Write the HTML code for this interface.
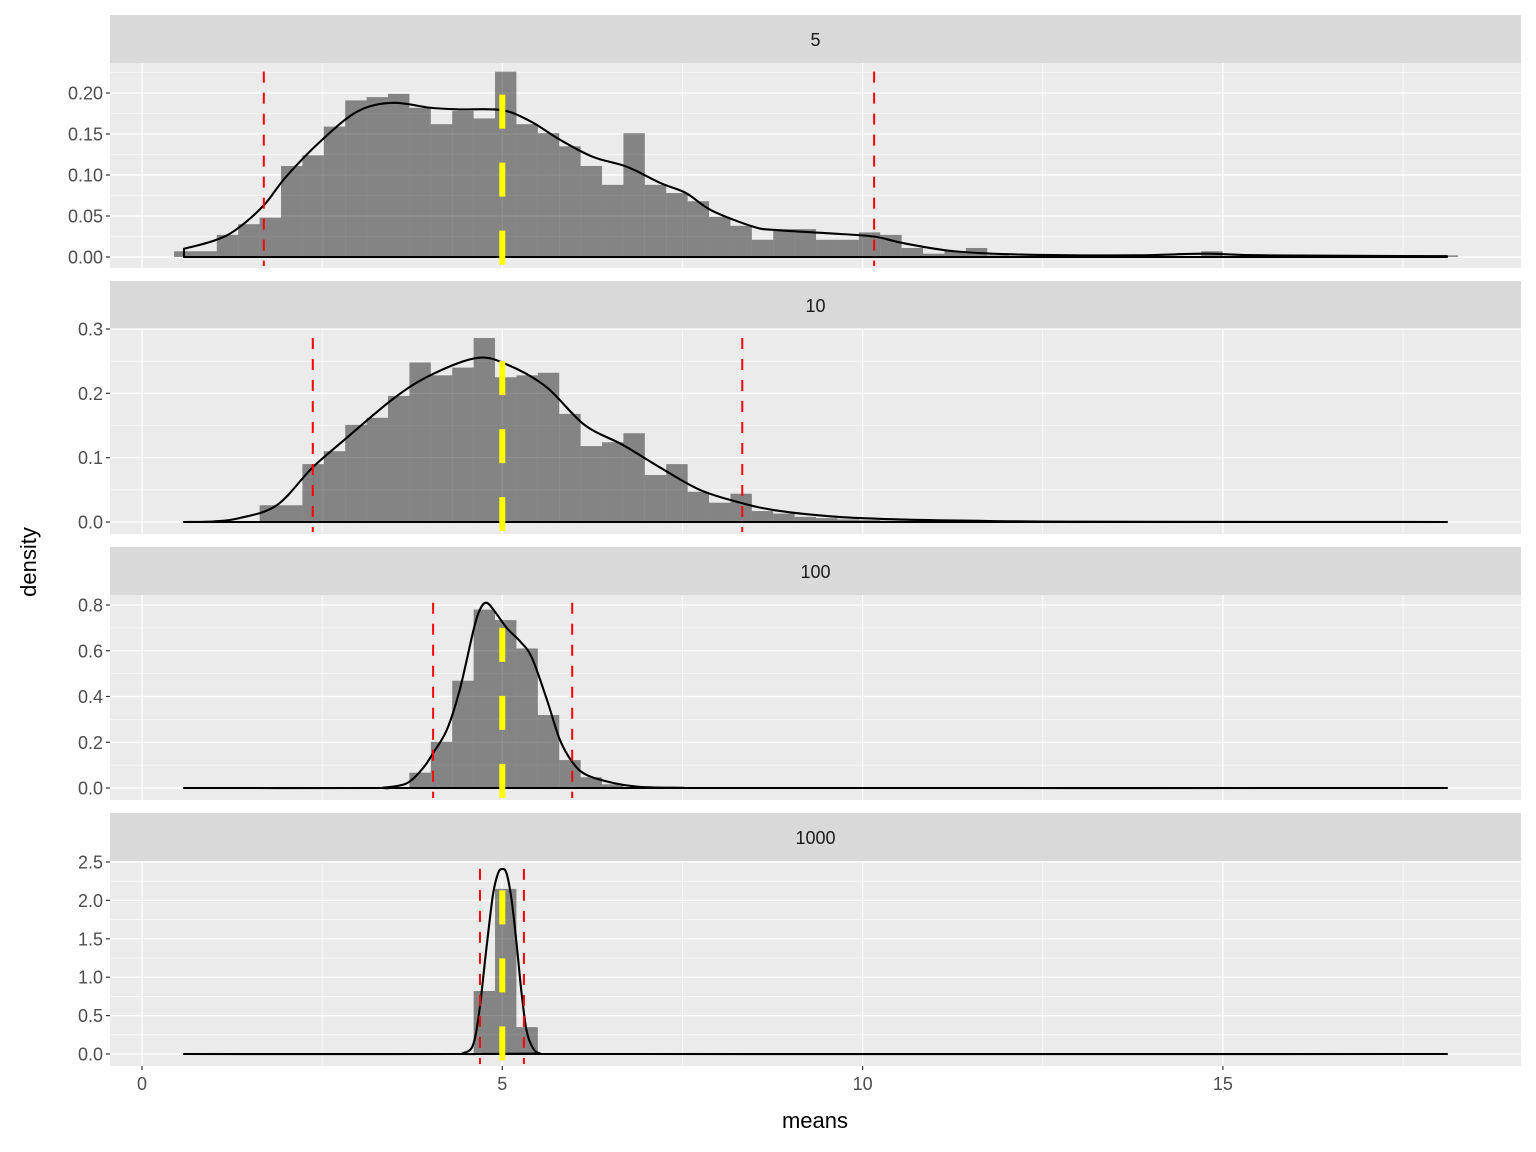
<!DOCTYPE html>
<html><head><meta charset="utf-8">
<style>
html,body{margin:0;padding:0;background:#fff;}
svg{display:block;font-family:"Liberation Sans",Arial,sans-serif;}
</style></head>
<body>
<svg id="chart" width="1536" height="1152" viewBox="0 0 1536 1152" xmlns="http://www.w3.org/2000/svg">
<rect x="0" y="0" width="1536" height="1152" fill="#ffffff"/>
<g id="panels"></g>
<text x="815" y="1128" font-size="22" fill="#000" text-anchor="middle">means</text>
<text x="0" y="0" transform="translate(36,562) rotate(-90)" font-size="22" fill="#000" text-anchor="middle">density</text>
</svg>
<script>
// ---- data ----
const panelLabels = ["5", "10", "100", "1000"];
const binStart = 0.444;
const binWidth = 0.297;
const barsFirstBin = [0, 4, 10, 13];
const bars5 = [0.007,0.007,0.027,0.040,0.048,0.111,0.124,0.159,0.191,0.195,0.199,0.182,0.162,0.178,0.169,0.226,0.162,0.151,0.135,0.111,0.088,0.151,0.088,0.078,0.068,0.049,0.038,0.021,0.034,0.034,0.021,0.021,0.030,0.027,0.011,0.004,0.007,0.011,0.002,0,0.001,0.001,0,0.001,0.001,0.001,0,0.001,0.007,0.001,0,0,0,0,0,0,0,0,0,0.002];
const bars10 = [0.026,0.026,0.090,0.110,0.151,0.162,0.196,0.248,0.228,0.240,0.286,0.225,0.228,0.232,0.168,0.118,0.124,0.138,0.073,0.090,0.047,0.030,0.044,0.017,0.013,0.008,0.006,0.004,0.003,0.002,0.002,0.001];
const bars100 = [0.004,0.067,0.202,0.469,0.78,0.734,0.61,0.319,0.122,0.047,0.016,0.004];
const bars1000 = [0.005,0.82,2.15,0.35,0.01];
const dens5x = [0.583,1.0,1.3,1.69,2.0,2.5,3.0,3.48,4.0,4.4,5.0,5.4,5.8,6.26,6.73,7.2,7.55,7.9,8.48,8.78,9.5,10.15,10.56,11.27,12.2,13.76,14.75,15.6,18.11];
const dens5y = [0.010,0.020,0.033,0.063,0.098,0.143,0.178,0.188,0.182,0.180,0.179,0.165,0.143,0.122,0.110,0.090,0.078,0.057,0.037,0.033,0.029,0.025,0.017,0.007,0.003,0.002,0.004,0.002,0.001];
const dens10x = [0.583,1.0,1.35,1.87,2.36,2.78,3.48,4.0,4.65,5.08,5.61,6.14,6.67,7.2,7.74,8.27,8.8,9.65,10.5,11.5,13,18.11];
const dens10y = [0,0.001,0.006,0.026,0.084,0.125,0.191,0.228,0.255,0.244,0.21,0.151,0.120,0.084,0.050,0.031,0.018,0.008,0.004,0.002,0.0005,0];
const dens100x = [0.583,3.2,3.34,3.67,3.9,4.04,4.23,4.41,4.6,4.69,4.78,4.9,5.06,5.25,5.41,5.62,5.8,5.98,6.17,6.54,6.91,7.5,8,18.11];
const dens100y = [0,0,0.001,0.02,0.087,0.153,0.254,0.43,0.69,0.78,0.81,0.77,0.70,0.64,0.57,0.385,0.21,0.11,0.057,0.022,0.005,0.001,0,0];
const dens1000x = [0.583,4.3,4.45,4.59,4.68,4.78,4.87,4.94,5.0,5.06,5.13,5.2,5.27,5.34,5.43,5.52,5.7,18.11];
const dens1000y = [0,0,0.01,0.11,0.55,1.38,2.07,2.35,2.41,2.35,2.0,1.42,0.77,0.29,0.07,0.01,0,0];
const ciLow = [1.69, 2.37, 4.04, 4.69];
const ciHigh = [10.16, 8.33, 5.97, 5.30];
const meanLine = [5, 5, 5, 5];
const meanTop = [0.198, 0.25, 0.70, 2.13];
const yTicks5 = ["0.00","0.05","0.10","0.15","0.20"];
const yTicks10 = ["0.0","0.1","0.2","0.3"];
const yTicks100 = ["0.0","0.2","0.4","0.6","0.8"];
const yTicks1000 = ["0.0","0.5","1.0","1.5","2.0","2.5"];
const xTicks = ["0","5","10","15"];

const allBars = [bars5, bars10, bars100, bars1000];
const allDx = [dens5x, dens10x, dens100x, dens1000x];
const allDy = [dens5y, dens10y, dens100y, dens1000y];
const allYTicks = [yTicks5, yTicks10, yTicks100, yTicks1000];

// ---- layout ----
const NS = "http://www.w3.org/2000/svg";
const plotL = 110, plotR = 1521;
const x0px = 142, xScale = 72.06;
function xPos(v){ return x0px + v * xScale; }
const stripTops = [15, 281, 547, 813];
const zeroY = [257, 522, 788, 1054];
const yScales = [820, 643.3, 228.75, 76.8];
const stripH = 48, plotH = 205;

function mk(tag, attrs, parent){
  const e = document.createElementNS(NS, tag);
  for (const k in attrs) e.setAttribute(k, attrs[k]);
  parent.appendChild(e);
  return e;
}
function smoothPath(pts){
  let d = "M" + pts[0][0].toFixed(2) + "," + pts[0][1].toFixed(2);
  for (let i = 0; i < pts.length - 1; i++){
    const p0 = pts[Math.max(0,i-1)], p1 = pts[i], p2 = pts[i+1], p3 = pts[Math.min(pts.length-1,i+2)];
    const c1x = p1[0] + (p2[0]-p0[0])/6, c1y = p1[1] + (p2[1]-p0[1])/6;
    const c2x = p2[0] - (p3[0]-p1[0])/6, c2y = p2[1] - (p3[1]-p1[1])/6;
    d += " C" + c1x.toFixed(2) + "," + c1y.toFixed(2) + " " + c2x.toFixed(2) + "," + c2y.toFixed(2) + " " + p2[0].toFixed(2) + "," + p2[1].toFixed(2);
  }
  return d;
}

const root = document.getElementById("panels");
for (let p = 0; p < 4; p++){
  const st = stripTops[p], pt = st + stripH, pb = pt + plotH;
  const yPos = v => zeroY[p] - v * yScales[p];
  const g = mk("g", {}, root);
  
  

  const strip = mk("rect", {x:plotL, y:st, width:plotR-plotL, height:stripH, fill:"#D9D9D9"}, g);
  
  
  const stxt = mk("text", {x:(plotL+plotR)/2, y:st+31, "font-size":"18", fill:"#1A1A1A", "text-anchor":"middle"}, g);
  stxt.textContent = panelLabels[p];
  
  

  const bg = mk("rect", {x:plotL, y:pt, width:plotR-plotL, height:plotH, fill:"#EBEBEB"}, g);
  
  

  // grid
  const ticks = allYTicks[p];
  const step = parseFloat(ticks[1]) - parseFloat(ticks[0]);
  for (let i = 0; i < ticks.length + 1; i++){
    const vm = parseFloat(ticks[0]) + (i + 0.5) * step;
    const ym = yPos(vm);
    if (ym > pt && ym < pb){
      const l = mk("line", {x1:plotL, x2:plotR, y1:ym, y2:ym, stroke:"#fff", "stroke-width":"0.6"}, g);
      
      
    }
  }
  for (let i = 0; i < 8; i++){
    const xm = xPos(2.5 + i * 5);
    if (xm < plotR){
      const l = mk("line", {x1:xm, x2:xm, y1:pt, y2:pb, stroke:"#fff", "stroke-width":"0.6"}, g);
      
      
    }
  }
  ticks.forEach(t => {
    const y = yPos(parseFloat(t));
    const l = mk("line", {x1:plotL, x2:plotR, y1:y, y2:y, stroke:"#fff", "stroke-width":"1.2"}, g);
    
    
    const tk = mk("line", {x1:plotL-4, x2:plotL, y1:y, y2:y, stroke:"#333", "stroke-width":"1.2"}, g);
    
    
    const tl = mk("text", {x:plotL-7, y:y+6.5, "font-size":"18", fill:"#4D4D4D", "text-anchor":"end"}, g);
    tl.textContent = t;
    
    
  });
  xTicks.forEach(t => {
    const x = xPos(parseFloat(t));
    const l = mk("line", {x1:x, x2:x, y1:pt, y2:pb, stroke:"#fff", "stroke-width":"1.2"}, g);
    
    
  });

  // bars
  const bars = allBars[p];
  let maxV = 0;
  bars.forEach((h, i) => {
    if (h > maxV) maxV = h;
    if (h <= 0) return;
    const left = binStart + (barsFirstBin[p] + i) * binWidth;
    const r = mk("rect", {x:xPos(left), y:yPos(h), width:binWidth*xScale, height:yPos(0)-yPos(h), fill:"#000", "fill-opacity":"0.44"}, g);
    
    
  });

  // density
  const dx = allDx[p], dy = allDy[p];
  const pts = dx.map((v, i) => [xPos(v), yPos(dy[i])]);
  dy.forEach(v => { if (v > maxV) maxV = v; });
  let d = smoothPath(pts);
  d += " L" + xPos(dx[dx.length-1]).toFixed(2) + "," + yPos(0).toFixed(2) + " L" + xPos(dx[0]).toFixed(2) + "," + yPos(0).toFixed(2) + " Z";
  const dp = mk("path", {d:d, fill:"none", stroke:"#000", "stroke-width":"2.1", "stroke-linejoin":"round"}, g);
  
  

  // CI lines
  [ciLow[p], ciHigh[p]].forEach((v, k) => {
    const l = mk("line", {x1:xPos(v), x2:xPos(v), y1:yPos(maxV), y2:pb-2, stroke:"#FF0000", "stroke-width":"2", "stroke-dasharray":"11 10"}, g);
    
    
  });
  // mean line
  const ml = mk("line", {x1:xPos(meanLine[p]), x2:xPos(meanLine[p]), y1:yPos(meanTop[p]), y2:pb-2, stroke:"#FFFF00", "stroke-width":"6", "stroke-dasharray":"34 34"}, g);
  
  

  if (p === 3){
    xTicks.forEach(t => {
      const x = xPos(parseFloat(t));
      const tk = mk("line", {x1:x, x2:x, y1:pb, y2:pb+4, stroke:"#333", "stroke-width":"1.2"}, g);
      
      
      const tl = mk("text", {x:x, y:pb+24, "font-size":"18", fill:"#4D4D4D", "text-anchor":"middle"}, g);
      tl.textContent = t;
      
      
    });
  }
}
</script>
</body></html>
